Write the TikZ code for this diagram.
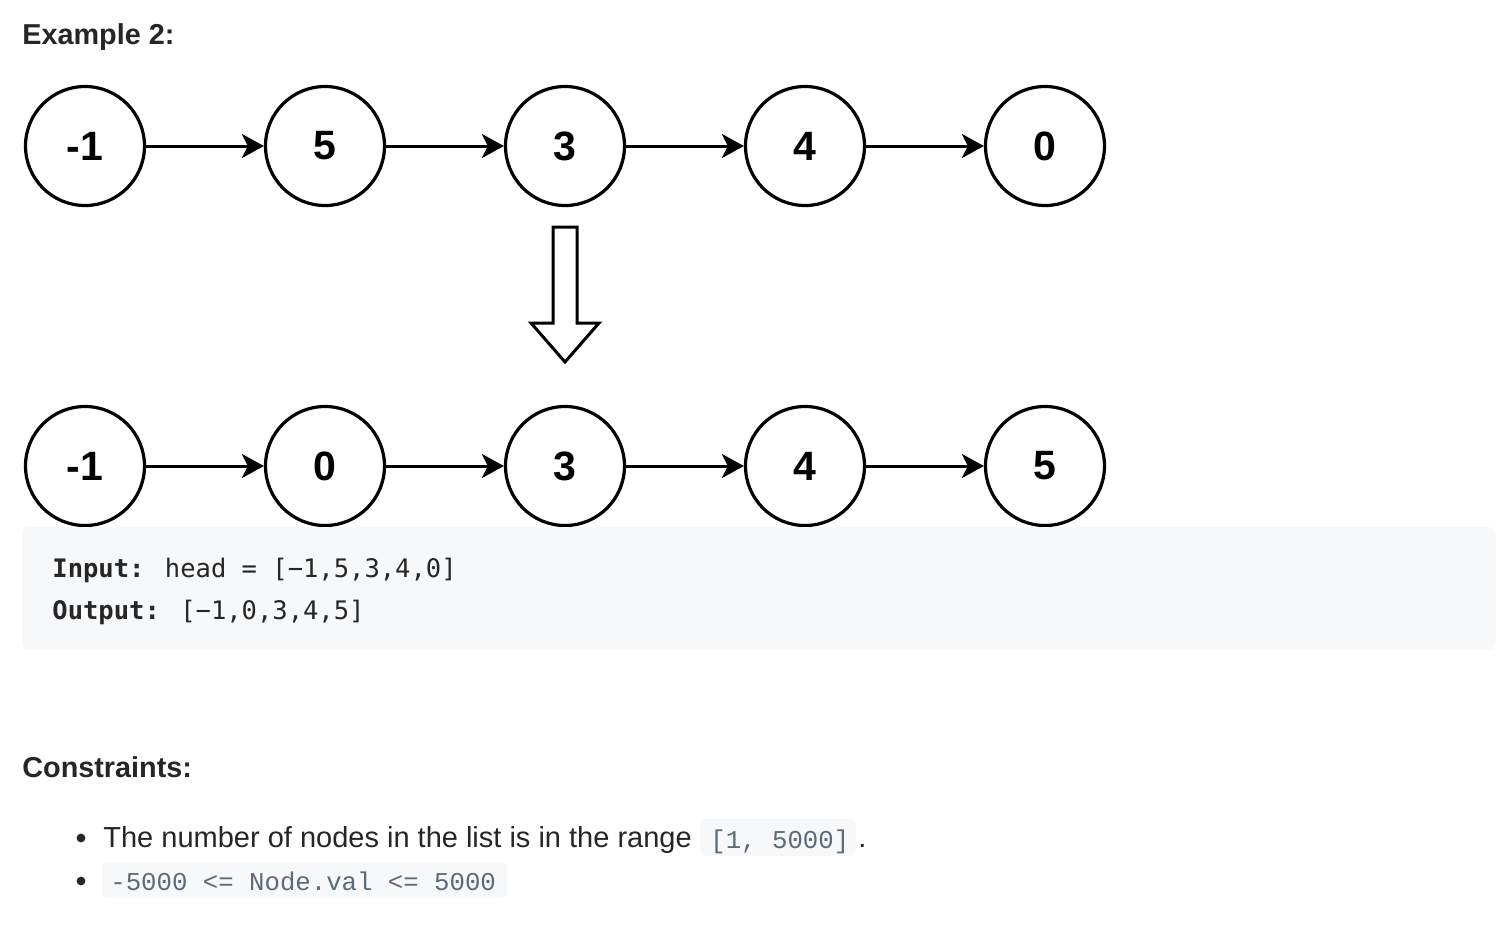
\documentclass[tikz,border=0pt]{standalone}
\usepackage{fontspec}
\setmainfont{Liberation Sans}
\newfontfamily\codefont{DejaVu Sans Mono}
\newfontfamily\inlinefont{Liberation Mono}
\usetikzlibrary{arrows.meta}
\definecolor{txt}{RGB}{38,38,38}
\definecolor{codebg}{RGB}{247,248,250}
\definecolor{inl}{RGB}{92,107,119}
\tikzset{
  lnode/.style={circle,draw=black,line width=1.6pt,minimum size=59.5pt,inner sep=0pt,
    font=\fontsize{20.5}{20}\selectfont\bfseries},
  link/.style={line width=1.5pt,-{Stealth[length=11pt,width=12pt,inset=3pt]}},
  heading/.style={anchor=base west,inner sep=0pt,text=txt,font=\fontsize{14.4}{17}\selectfont\bfseries},
  body/.style={anchor=base west,inner sep=0pt,text=txt,font=\fontsize{14.5}{17}\selectfont},
  code/.style={anchor=base west,inner sep=0pt,text=txt,font=\fontsize{12.75}{15}\codefont},
  inline/.style={anchor=base west,inner sep=0pt,text=inl,font=\fontsize{12.85}{15}\inlinefont},
}
\begin{document}
\begin{tikzpicture}[x=0.5pt,y=-0.5pt]
\useasboundingbox (0,0) rectangle (1512,928);
\node[heading] (ex) at (22,44) {Example 2:};
% top list
\foreach \i/\v/\x in {1/-1/85,2/5/325,3/3/565,4/4/805,5/0/1045}
  \node[lnode] (t\i) at (\x,146) {\v};
\foreach \i/\v/\x in {1/-1/85,2/0/325,3/3/565,4/4/805,5/5/1045}
  \node[lnode] (b\i) at (\x,466) {\v};
\foreach \a/\b in {1/2,2/3,3/4,4/5}{
  \draw[link] (t\a) -- (t\b);
  \draw[link] (b\a) -- (b\b);
}
% hollow arrow
\draw[line width=1.5pt,fill=white,miter limit=10]
  (553,227) -- (577,227) -- (577,323) -- (599,323) -- (565,362) -- (531,323) -- (553,323) -- cycle;
% code block
\fill[codebg,rounded corners=3pt] (22,527) rectangle (1496,649);
\node[code] (in) at (52,577) {\textbf{Input:} head = [−1,5,3,4,0]};
\node[code] (out) at (52,619) {\textbf{Output:} [−1,0,3,4,5]};
% constraints
\node[heading] (con) at (22,777) {Constraints:};
\fill[txt] (81,838) circle (2.2pt);
\fill[txt] (81,881) circle (2.2pt);
\node[body] (c1) at (103,847) {The number of nodes in the list is in the range};
\fill[codebg,rounded corners=3pt] (700,819) rectangle (856,856);
\node[inline] (c1c) at (710,848) {[1, 5000]};
\node[body] (dot) at (858,847) {.};
\fill[codebg,rounded corners=3pt] (102,862) rectangle (507,898);
\node[inline] (c2c) at (110,890) {-5000 <= Node.val <= 5000};
\end{tikzpicture}
\end{document}
